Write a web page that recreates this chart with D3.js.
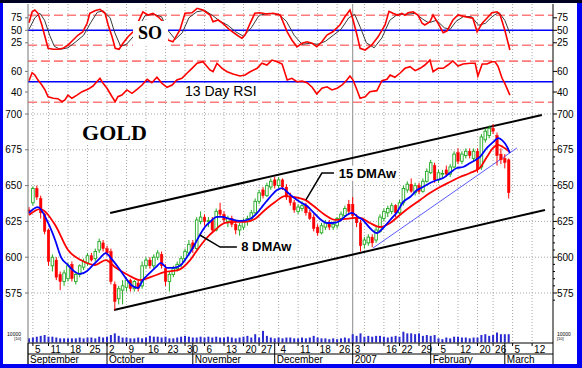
<!DOCTYPE html>
<html><head><meta charset="utf-8">
<script src="https://cdn.jsdelivr.net/npm/d3@7"></script>
<style>body{margin:0;background:#fff}svg{display:block}</style>
</head><body>
<svg id="c" width="582" height="368"></svg>
<script>
// ---------- DATA ----------
// trading-day index 0 = 2006-09-01 ... 123 = 2007-03-02
const dayTicks = [[1,"5"],[5,"11"],[10,"18"],[15,"25"],[20,"2"],[25,"9"],[30,"16"],[35,"23"],[40,"30"],
  [45,"6"],[50,"13"],[55,"20"],[59,"27"],[64,"4"],[69,"11"],[74,"18"],[79,"26"],[83,"3"],[86,""],
  [91,"16"],[95,"22"],[100,"29"],[105,"5"],[110,"12"],[115,"20"],[119,"26"],[124,"5"],[129,"12"]];
const monthTicks = [[-0.26,"September"],[20,"October"],[42,"November"],[63,"December"],[83,"2007"],[103,"February"],[122,"March"]];
const priceTicks = [575,600,625,650,675,700];
const soTicks = [25,50,75];
const rsiTicks = [40,60];

const open  = [633,638,648,641,630,619,594,598,588,583,585,595,583,588,593,596,601,599,605,610,606,604,581,571,577,579,584,578,582,580,594,598,594,600,602,592,583,588,592,595,599,603,610,606,625,628,625,626,619,633,630,625,627,623,619,621,625,627,631,639,647,643,649,654,650,654,649,642,638,632,634,636,631,628,621,617,621,624,621,622,627,629,637,637,628,624,609,610,614,612,618,627,631,632,636,631,638,647,651,645,650,646,653,659,664,654,658,661,658,663,673,667,671,674,669,674,663,682,685,690,685,672,669,668];
const high  = [635,649.5,650,643,631,620,602,600,590,591,596,597,590,595,599,603,603,606,613,612,608,606,583,580,584,586,585,584,584,597,600,600,602,605,604,595,590,594,597,601,606,612,612,628,632,630,628,628,634,638,632,629,629,625,624,627,629,633,641,647,649,652,655,656,656,655,651,645,640,637,639,638,633,630,623,624,626,626,625,628,632,636,640,642,630,626,614,616,616,621,630,634,636,638,637,640,650,653,655,652,652,655,662,668,666,661,661,664,665,674,676,674,676,676,676,676,686,690,692,693,687,676,672,669];
const low   = [630,636,640,627,616,594,590,584,577,580,583,583,581,586,591,594,597,597,603,604,601,581,563,567,567,576,576,576,576,578,592,592,592,598,592,580,576,586,590,593,597,601,603,605,623,622,621,617,618,628,624,621,621,616,615,619,622,625,630,637,641,642,647,648,648,647,640,636,631,630,632,629,626,618,615,616,619,619,619,620,625,628,630,627,621,604,606,608,607,610,617,625,628,630,628,630,636,645,645,643,644,645,652,658,652,652,655,656,656,662,665,665,669,669,667,659,661,680,683,686,664,665,662,641];
const close = [632,648,642,631,618,597,600,586,583,589,594,585,588,594,597,601,598,604,611,606,603,583,569,578,580,584,578,583,578,594,598,594,600,603,594,583,588,592,595,599,604,609,606,626,628,625,625.5,619,632,630,626,627,623,619,622,625,627,631,639,645,643,650,653,650,654,649,642,638,633,635,636,631,627,620,617,622,624,621,623,627,630,634,632,629,624,608,612,614,610,619,628,632,634,636,631,638,648,651,646,650,646,653,660,666,654,659,658.5,658,663,672,667,672,674,671,674,661,684,688,690,688,671,668,666,645];
const volume = [5000,6000,7000,8000,9000,7000,7000,6000,5000,5000,5000,5000,5000,6000,5000,6000,6000,5000,7000,6000,
  7000,9000,11000,8000,6000,6000,5000,5000,6000,5000,6000,8000,7000,7000,6000,7000,5000,5000,6000,7000,
  8000,7000,6000,6000,7000,6000,7000,6000,7000,6000,6000,7000,6000,5000,6000,7000,8000,6000,10000,6000,
  14000,8000,6000,5000,6000,5000,6000,6000,5000,5000,6000,5000,6000,8000,6000,5000,5000,4000,5000,4000,
  5000,6000,5000,10000,8000,11000,7000,8000,7000,8000,8000,7000,6000,7000,8000,7000,13000,11000,11000,10000,
  11000,8000,9000,8000,9000,5000,4000,6000,5000,7000,7000,6000,6000,5000,6000,6000,9000,10000,8000,9000,
  12000,10000,10000,10000];

// 8 DMAw (blue) and 15 DMAw (red) as [day index, price]
const ma8 = [[0,631],[2.3,635],[4.9,623.9],[6.7,612],[8.2,600.1],[10,594.5],[11.8,589.7],[13.1,588.3],[14.9,590.4],[16.4,594.5],[18.2,599.4],[19.7,602.9],[21,599.4],[22.8,593.2],[24.6,586.2],[26.2,580.6],[27.9,578.5],[29.2,584],[31,589],[32.6,593.2],[33.8,596],[35.4,592.5],[36.9,592.5],[38.7,594],[40.5,600.1],[42,606.4],[43.8,615.5],[45.1,621.1],[46.4,624.6],[48.2,628.1],[49.5,628.1],[51.5,626.7],[54.1,625.3],[56.7,626.7],[58.5,630.9],[59.7,635],[61.8,642],[63.6,646.9],[64.9,648.3],[66.2,645.5],[67.7,642],[69.5,638.5],[71.3,635.8],[72.8,631.6],[74.6,626.7],[76.4,623.9],[77.9,623.9],[79.7,625.3],[81.5,629.5],[82.8,630.9],[84.4,628.1],[85.6,626],[87.4,620.4],[89.2,616.9],[90.8,620.4],[92.6,626],[94.4,631.6],[95.9,638.5],[97.7,642],[99.5,646.9],[101,649],[102.8,651.8],[104.6,653.9],[106.2,655.3],[107.9,658.8],[109.7,662.3],[111.3,663],[113.1,665.8],[114.9,668.6],[115.6,670],[117.4,676.3],[119,680.4],[120.3,683.2],[121.3,681.8],[122.6,677],[123.3,672.8]];
const ma15 = [[0,629.5],[2.8,633.6],[6.7,622.5],[10,605],[13.3,598],[16.9,594.5],[19.7,598],[22,593.2],[25.4,587.6],[28.5,584],[31.3,586.2],[34.9,589.7],[38.2,591],[41.3,598],[42.6,602.9],[45.1,612],[47.7,619],[50.3,623.9],[52.8,624.6],[55.4,624.6],[57.9,626.7],[60.5,633],[63.1,638.5],[65.6,642.7],[68.2,642],[70.8,640],[73.3,635],[75.9,629.5],[78.5,626],[81,626.7],[83.6,627.4],[84.9,627.4],[87.4,623.9],[90,621.1],[92.6,623.9],[95.1,629.5],[97.7,635],[100.3,640],[102.8,644.8],[105.4,649],[107.9,652.5],[110.5,656],[113.1,658.8],[115.6,662.3],[117.4,670],[119,676.3],[120.3,678.4],[121.5,677],[123.3,673.5]];

// Stochastic oscillator %K (red) and %D (dark)
const soK = [[0,65],[0.8,87],[1.5,90.6],[2.3,84],[3.3,60.6],[4.1,37],[4.9,14],[6.2,12],[7.4,12],[8.7,14],[10,20.6],[11.3,30.6],[12.6,40.6],[13.8,47],[14.9,64],[15.6,84],[16.9,89],[18.2,92],[19.5,84],[20.3,60.6],[21.3,37],[22.1,14],[23.1,12],[24.1,24],[25.4,37],[26.7,47],[28,67],[29.2,87],[30.5,80.6],[31.8,84],[33.1,77],[34.4,67],[35,48],[35.6,30.6],[36.9,27],[38.7,50.6],[40,84],[41.8,85],[43.1,94],[44.6,90.6],[46.4,80.6],[47.2,67],[48.5,70.6],[49.7,64],[51.5,50.6],[53.3,40.6],[54.6,34],[55.4,40.6],[56.7,64],[57.9,84],[59.2,85],[61,82.6],[62.6,84],[64.4,80.6],[66.2,47],[67.4,30.6],[68.7,17],[70,24],[71.3,27],[72.6,24],[73.8,17],[75.1,27],[76.4,40.6],[77.9,47],[79.7,60.6],[81,77],[82.3,90.6],[83.1,70.6],[84.1,40.6],[84.9,14],[86.2,10.6],[87.9,20.6],[89.5,37],[91.3,60.6],[92.3,88],[93.3,84],[94.6,80],[95.6,84],[96.4,80],[97.2,85],[98.5,87],[99.7,80.6],[100.8,64],[101.5,60.6],[102.8,67],[103.6,80.6],[104.9,64],[106.2,45],[107.2,49],[108.7,70.6],[110,80.6],[111.8,77],[113.8,74],[114.9,47],[116.2,64],[117.4,74],[118.7,85],[120,87],[120.8,80.6],[122,50.6],[123.3,10.6]];
const soD = [[0,52],[1.5,75],[2.8,84],[4,70],[5.3,40],[6.5,18],[8,12],[10,15],[12,27],[14,40],[15.8,65],[17.5,86],[19,89],[20.8,75],[22,45],[23.5,18],[25,22],[26.7,37],[29.8,80],[32,82],[34,77],[35.6,50],[37.5,32],[39.3,45],[41,75],[43,87],[45,90],[47,80],[49,68],[51,60],[53,47],[55,38],[57,55],[59,80],[61.5,84],[64,82],[66,68],[68,40],[70,22],[72,24],[74,22],[76,28],[78,40],[80,52],[82,75],[83.5,82],[85,55],[86.5,25],[88.5,15],[90.5,35],[92.5,70],[94.5,82],[97,82],[99,84],[101,72],[102.5,65],[104.5,70],[106.5,55],[108,52],[109.5,68],[111.5,78],[113.5,77],[115.3,60],[117,64],[119,79],[120.5,86],[122,70],[123.3,44]];

// 13 day RSI
const rsi = [[0,51],[0.8,58.7],[1.5,56.5],[2.3,51.6],[3.3,46.8],[4.1,42],[4.9,35.4],[6.2,33.9],[7.4,33.5],[8.5,30.6],[9.2,32.2],[10,37],[11,33.9],[12.3,37],[13.6,40.3],[15.1,42.6],[16.4,45.8],[17.4,50],[18.2,53.3],[19,48.4],[20,43.6],[21.3,35.4],[22.1,30.6],[22.8,35.4],[23.8,37],[25.1,42],[26.4,38.7],[27.7,42.6],[29,46.8],[30.3,52.3],[31.5,49],[32.8,54.3],[34.1,48.4],[35.4,44.6],[36.7,46.8],[37.9,51.6],[39.2,53.3],[40.5,58.2],[41.8,63],[43.1,68],[44.6,69.4],[46.4,61.4],[47.2,59.7],[48.2,67.9],[49.5,63],[50.8,59.7],[52.3,57.5],[54.1,55.5],[55.4,56.5],[56.7,59.7],[58.5,63],[59.7,67.9],[61,66.2],[62.3,71],[63.6,69.4],[64.9,67.2],[66.2,51.6],[67.4,53.3],[68.7,50],[70,50.5],[71.3,49],[72.6,44.6],[73.8,38],[75.1,43.6],[76.4,45.1],[77.7,42],[79,43.6],[80.3,46.8],[81.5,51.6],[82.3,55.5],[83.1,51.6],[84.1,42],[84.9,33.9],[86.2,35.4],[87.4,40.3],[89.2,41.3],[90.5,51],[91.8,52.3],[92.6,56.5],[93.8,54.3],[95.1,58.2],[96.4,63],[97.7,64.6],[99,60.7],[100.3,63],[101.5,66.2],[102.8,71],[103.6,59.7],[104.9,63],[106.2,63],[107.4,66.2],[108.7,70.1],[110,65.2],[111.3,67.2],[113.1,67.9],[114.4,67.9],[115.1,55.5],[116.2,67.2],[117.4,67.2],[118.7,69.4],[119.5,69.4],[120.3,64.6],[121.3,53.3],[122,48.4],[123.3,37]];

// trend lines (day index, price)
const channelUpper = [[20.8,630.9],[131.5,699.3]];
const channelLower = [[21.8,563.1],[132.3,633]];
const supportLine  = [[88.2,606.4],[125.1,676.3]];
const pointer15 = [[78.2,658.8],[75.1,658.8],[71,640]];
const pointer8  = [[53.3,607.1],[49,607.1],[43.8,615.5]];

// ---------- SCALES ----------
const L = 28, R = 553, AX = 343;
const x = d3.scaleLinear().domain([0,123]).range([29,508.7]);
const yP = d3.scaleLinear().domain([575,700]).range([293,114]);
const ySO = d3.scaleLinear().domain([0,100]).range([55.3,5.3]);
const yR = d3.scaleLinear().domain([30,70]).range([102.3,61.1]);
const yV = d3.scaleLinear().domain([0,10000]).range([342.5,334.2]);

const svg = d3.select("#c");
const font = "'Liberation Sans', Arial, sans-serif";

// frame
svg.append("rect").attr("width",582).attr("height",368).attr("fill","#0000f2");
svg.append("rect").attr("width",582).attr("height",3).attr("fill","#000022");
svg.append("rect").attr("x",3).attr("y",3).attr("width",574).attr("height",361).attr("fill","#fff");

svg.append("defs").append("clipPath").attr("id","clip")
  .append("rect").attr("x",L).attr("y",4).attr("width",R-L).attr("height",AX-4);
const g = svg.append("g").attr("clip-path","url(#clip)");

// vertical grid
dayTicks.forEach(([i]) => {
  g.append("line").attr("x1",x(i)).attr("x2",x(i)).attr("y1",4).attr("y2",AX)
    .attr("stroke", i===83 ? "#8c8c8c" : "#a8a8a8").attr("stroke-width",1)
    .attr("stroke-dasharray", i===83 ? null : "1,2");
});
// horizontal price grid
priceTicks.forEach(p => {
  g.append("line").attr("x1",L).attr("x2",R).attr("y1",yP(p)).attr("y2",yP(p))
    .attr("stroke","#a8a8a8").attr("stroke-dasharray","1,2");
});
// level lines
function hline(y, color, dash, w){
  g.append("line").attr("x1",L).attr("x2",R).attr("y1",y).attr("y2",y)
    .attr("stroke",color).attr("stroke-width",w).attr("stroke-dasharray",dash);
}
[80,20].forEach(v=>hline(ySO(v),"#ff7a7a","9,4",1.6));
hline(ySO(50),"#0000ff",null,1.6);
[70,30].forEach(v=>hline(yR(v),"#ff7a7a","9,4",1.6));
hline(yR(50),"#0000ff",null,1.6);

// volume
g.selectAll(".vol").data(volume).join("rect")
  .attr("x",(d,i)=>x(i)-1).attr("width",2)
  .attr("y",d=>yV(d)).attr("height",d=>yV(0)-yV(d)).attr("fill","#2a2ad0");

// channel lines
const tl = d3.line().x(d=>x(d[0])).y(d=>yP(d[1]));
g.append("path").attr("d",tl(channelUpper)).attr("stroke","#000").attr("stroke-width",2).attr("fill","none");
g.append("path").attr("d",tl(channelLower)).attr("stroke","#000").attr("stroke-width",2).attr("fill","none");
g.append("path").attr("d",tl(supportLine)).attr("stroke","#5a5aff").attr("stroke-width",1).attr("fill","none");

// candles
const cg = g.append("g");
close.forEach((c,i) => {
  const o = open[i], up = c >= o;
  const col = up ? "#22aa22" : "#ff0000";
  cg.append("line").attr("x1",x(i)).attr("x2",x(i)).attr("y1",yP(high[i])).attr("y2",yP(low[i]))
    .attr("stroke",col).attr("stroke-width",1);
  const top = yP(Math.max(o,c)), bot = yP(Math.min(o,c));
  cg.append("rect").attr("x",x(i)-1.3).attr("width",2.6)
    .attr("y",top).attr("height",Math.max(0.8,bot-top))
    .attr("fill", up ? "#ffffff" : "#ff0000").attr("stroke",col).attr("stroke-width",up?0.9:0.4);
});

// moving averages
const pl = d3.line().x(d=>x(d[0])).y(d=>yP(d[1])).curve(d3.curveMonotoneX);
g.append("path").attr("d",pl(ma15)).attr("stroke","#ff0000").attr("stroke-width",1.8).attr("fill","none");
g.append("path").attr("d",pl(ma8)).attr("stroke","#0000ff").attr("stroke-width",1.8).attr("fill","none");

// oscillators
const sl = d3.line().x(d=>x(d[0])).y(d=>ySO(d[1]));
g.append("path").attr("d",sl(soD)).attr("stroke","#3a3a3a").attr("stroke-width",1).attr("fill","none");
g.append("path").attr("d",sl(soK)).attr("stroke","#ff0000").attr("stroke-width",1.6).attr("fill","none");
const rl = d3.line().x(d=>x(d[0])).y(d=>yR(d[1]));
g.append("path").attr("d",rl(rsi)).attr("stroke","#ff0000").attr("stroke-width",1.6).attr("fill","none");

// pointers
g.append("path").attr("d",tl(pointer15)).attr("stroke","#000").attr("stroke-width",1.5).attr("fill","none");
g.append("path").attr("d",tl(pointer8)).attr("stroke","#000").attr("stroke-width",1.5).attr("fill","none");

// labels with white boxes
function label(txt, xx, yy, size, fam, weight, box){
  if (box) svg.append("rect").attr("x",box[0]).attr("y",box[1]).attr("width",box[2]).attr("height",box[3]).attr("fill","#fff");
  svg.append("text").attr("x",xx).attr("y",yy).text(txt)
    .attr("font-family",fam).attr("font-size",size).attr("font-weight",weight).attr("fill","#000");
}
const serif = "'Liberation Serif','Times New Roman',serif";
label("SO", 138, 38.5, 18, serif, "bold", [133,21,35,25]);
label("13 Day RSI", 185, 96, 14, font, "normal", [182,84,80,15]);
label("GOLD", x(13.6), yP(681.5), 22, serif, "bold", [x(13.6)-3, yP(681.5)-17, 71, 21]);
label("15 DMAw", x(79.4), yP(655.5), 13, font, "bold", [x(79.4)-2, yP(655.5)-12, 60, 15]);
label("8 DMAw", x(54.4), yP(604.3), 13, font, "bold", [x(54.4)-2, yP(604.3)-12, 55, 15]);

// axis frame lines
svg.append("line").attr("x1",R).attr("x2",R).attr("y1",4).attr("y2",364).attr("stroke","#000").attr("stroke-width",1);
svg.append("line").attr("x1",L).attr("x2",L).attr("y1",4).attr("y2",364).attr("stroke","#777").attr("stroke-width",1);
svg.append("line").attr("x1",L).attr("x2",R).attr("y1",AX).attr("y2",AX).attr("stroke","#000");
svg.append("line").attr("x1",L).attr("x2",R).attr("y1",354).attr("y2",354).attr("stroke","#000");

// y tick labels + ticks
function yLabels(vals, scale, fmt){
  vals.forEach(v => {
    const yy = scale(v);
    svg.append("text").attr("x",22).attr("y",yy+3.5).attr("text-anchor","end").text(fmt(v))
      .attr("font-family",font).attr("font-size",10).attr("fill","#000");
    svg.append("text").attr("x",557).attr("y",yy+3.5).text(fmt(v))
      .attr("font-family",font).attr("font-size",10).attr("fill","#000");
    svg.append("line").attr("x1",R).attr("x2",R+4).attr("y1",yy).attr("y2",yy).attr("stroke","#000");
    svg.append("line").attr("x1",L-3).attr("x2",L).attr("y1",yy).attr("y2",yy).attr("stroke","#777");
  });
}
yLabels(soTicks, ySO, d=>d);
yLabels(rsiTicks, yR, d=>d);
yLabels(priceTicks, yP, d=>d);
d3.range(570,705,5).filter(p=>p%25!==0).forEach(p=>{
  svg.append("line").attr("x1",R).attr("x2",R+2).attr("y1",yP(p)).attr("y2",yP(p)).attr("stroke","#000");
});
// volume label
[[21,"end"],[557,"start"]].forEach(([xx,a])=>{
  svg.append("text").attr("x",xx).attr("y",yV(10000)+1.5).attr("text-anchor",a).text("10000")
    .attr("font-family",font).attr("font-size",5).attr("fill","#000");
  svg.append("text").attr("x",xx).attr("y",yV(10000)+6).attr("text-anchor",a).text("[10]")
    .attr("font-family",font).attr("font-size",4).attr("fill","#000");
});

// x axis labels
dayTicks.forEach(([i,t]) => {
  svg.append("line").attr("x1",x(i)).attr("x2",x(i)).attr("y1",AX).attr("y2",AX+3).attr("stroke","#000");
  svg.append("text").attr("x",x(i)+2).attr("y",352.5).text(t)
    .attr("font-family",font).attr("font-size",10).attr("fill","#000");
});
monthTicks.forEach(([i,t]) => {
  const xx = Math.max(L, x(i));
  svg.append("line").attr("x1",xx).attr("x2",xx).attr("y1",AX).attr("y2",364).attr("stroke","#000");
  svg.append("text").attr("x",xx+2).attr("y",363).text(t)
    .attr("font-family",font).attr("font-size",10).attr("fill","#000");
});
</script>
</body></html>
